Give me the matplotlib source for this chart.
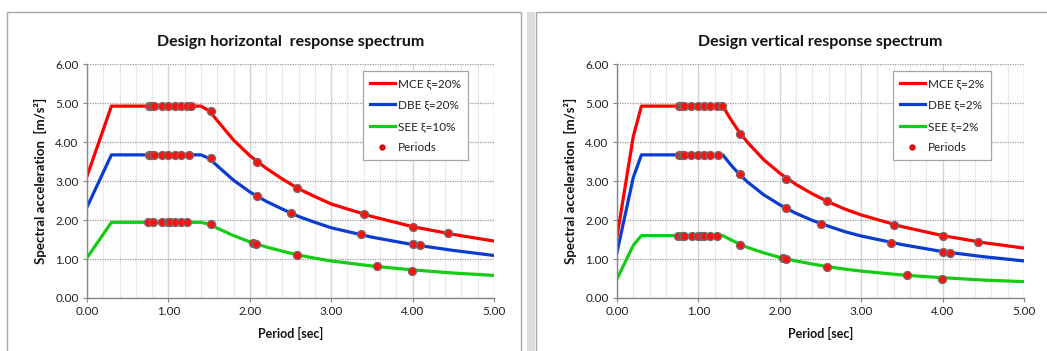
import matplotlib
matplotlib.use("Agg")
import matplotlib.pyplot as plt
from matplotlib.lines import Line2D
from matplotlib.patches import Rectangle
from matplotlib.ticker import MultipleLocator

plt.rcParams['font.family'] = ['Lato', 'DejaVu Sans']

# ---------------- data: horizontal spectrum ----------------
h_period = [0.0, 0.3, 1.4, 1.5, 1.6, 1.8, 2.0, 2.2, 2.4, 2.6, 2.8, 3.0, 3.5, 4.0, 4.5, 5.0]
h_mce = [3.12, 4.92, 4.92, 4.80, 4.55, 4.05, 3.65, 3.33, 3.05, 2.80, 2.60, 2.41, 2.09, 1.83, 1.63, 1.46]
h_dbe = [2.33, 3.67, 3.67, 3.58, 3.39, 3.02, 2.72, 2.48, 2.28, 2.09, 1.94, 1.80, 1.56, 1.37, 1.22, 1.09]
h_see = [1.03, 1.94, 1.94, 1.89, 1.79, 1.60, 1.44, 1.31, 1.20, 1.10, 1.02, 0.95, 0.82, 0.72, 0.64, 0.58]

h_mce_pT = [0.76, 0.79, 0.82, 0.92, 1.00, 1.08, 1.16, 1.23, 1.28, 1.52, 2.09, 2.58, 3.40, 4.00, 4.44]
h_mce_pS = [4.92, 4.92, 4.92, 4.92, 4.92, 4.92, 4.92, 4.92, 4.92, 4.79, 3.50, 2.82, 2.15, 1.83, 1.66]
h_dbe_pT = [0.76, 0.79, 0.82, 0.92, 1.00, 1.08, 1.16, 1.25, 1.52, 2.09, 2.51, 3.36, 4.00, 4.09]
h_dbe_pS = [3.67, 3.67, 3.67, 3.67, 3.67, 3.67, 3.67, 3.67, 3.60, 2.62, 2.17, 1.64, 1.38, 1.36]
h_see_pT = [0.75, 0.81, 0.92, 0.99, 1.02, 1.08, 1.15, 1.23, 1.52, 2.04, 2.08, 2.58, 3.56, 3.99]
h_see_pS = [1.94, 1.94, 1.94, 1.94, 1.94, 1.94, 1.94, 1.94, 1.89, 1.40, 1.38, 1.10, 0.82, 0.70]

# ---------------- data: vertical spectrum ----------------
v_period = [0.0, 0.2, 0.3, 1.3, 1.4, 1.5, 1.6, 1.8, 2.0, 2.2, 2.4, 2.6, 2.8, 3.0, 3.5, 4.0, 4.5, 5.0]
v_mce = [1.57, 4.14, 4.92, 4.92, 4.57, 4.26, 4.00, 3.55, 3.20, 2.91, 2.67, 2.46, 2.28, 2.13, 1.83, 1.60, 1.42, 1.28]
v_dbe = [1.17, 3.09, 3.67, 3.67, 3.41, 3.18, 2.98, 2.65, 2.39, 2.17, 1.99, 1.84, 1.70, 1.59, 1.37, 1.19, 1.06, 0.95]
v_see = [0.49, 1.35, 1.60, 1.60, 1.49, 1.39, 1.30, 1.16, 1.04, 0.95, 0.87, 0.80, 0.74, 0.69, 0.59, 0.52, 0.46, 0.42]

v_mce_pT = [0.76, 0.80, 0.82, 0.91, 0.99, 1.07, 1.14, 1.23, 1.29, 1.51, 2.08, 2.585, 3.40, 4.00, 4.43]
v_mce_pS = [4.92, 4.92, 4.92, 4.92, 4.92, 4.92, 4.92, 4.92, 4.92, 4.21, 3.04, 2.48, 1.88, 1.60, 1.44]
v_dbe_pT = [0.76, 0.80, 0.82, 0.91, 0.99, 1.07, 1.14, 1.24, 1.51, 2.08, 2.50, 3.36, 4.00, 4.09]
v_dbe_pS = [3.67, 3.67, 3.67, 3.67, 3.67, 3.67, 3.67, 3.67, 3.17, 2.30, 1.91, 1.42, 1.19, 1.16]
v_see_pT = [0.75, 0.80, 0.82, 0.92, 0.99, 1.03, 1.07, 1.14, 1.23, 1.51, 2.04, 2.08, 2.585, 3.56, 3.99]
v_see_pS = [1.60, 1.60, 1.60, 1.60, 1.60, 1.60, 1.60, 1.60, 1.60, 1.36, 1.03, 1.01, 0.79, 0.59, 0.50]

h_labels = ["MCE ξ=20%", "DBE ξ=20%", "SEE ξ=10%", "Periods"]
v_labels = ["MCE ξ=2%", "DBE ξ=2%", "SEE ξ=2%", "Periods"]
h_title = "Design horizontal  response spectrum"
v_title = "Design vertical response spectrum"
x_label = "Period [sec]"
y_label = "Spectral acceleration  [m/s²]"

RED = '#ff0000'
BLUE = '#0a3ccf'
GREEN = '#14cc14'

W, H = 1047, 351
fig = plt.figure(figsize=(W / 100, H / 100), dpi=100)

# panel borders (behind the axes)
fig.patches.append(Rectangle((7 / W, -0.1), (521 - 7) / W, 1.1 - 12 / H,
                             transform=fig.transFigure, fill=False,
                             edgecolor='#a8a8a8', lw=1.0, zorder=-5))
fig.patches.append(Rectangle((527 / W, -0.1), 8 / W, 1.1 - 12 / H,
                             transform=fig.transFigure, facecolor='#dcdcdc',
                             edgecolor='none', zorder=-5))
fig.patches.append(Rectangle((536 / W, -0.1), (1060 - 536) / W, 1.1 - 12 / H,
                             transform=fig.transFigure, fill=False,
                             edgecolor='#a8a8a8', lw=1.0, zorder=-5))


def draw(left_px, period, mce, dbe, see, pts, labels, title):
    ax = fig.add_axes([left_px / W, 1 - 298 / H, 407 / W, 234 / H])
    ax.patch.set_alpha(0)
    ax.set_xlim(0, 5)
    ax.set_ylim(0, 6)
    ax.xaxis.set_major_locator(MultipleLocator(1))
    ax.xaxis.set_minor_locator(MultipleLocator(0.2))
    ax.yaxis.set_major_locator(MultipleLocator(1))
    ax.set_xticklabels([f"{v:.2f}" for v in ax.get_xticks()])
    ax.set_yticklabels([f"{v:.2f}" for v in ax.get_yticks()])
    ax.grid(which='minor', axis='x', color='#ebebeb', lw=0.9)
    ax.grid(which='major', axis='x', color='#d4d4d4', lw=1.0)
    ax.grid(which='major', axis='y', color='#9a9a9a', lw=0.9, ls=(0, (1, 1)))
    ax.set_axisbelow(True)
    for s in ['top', 'right']:
        ax.spines[s].set_visible(False)
    for s in ['left', 'bottom']:
        ax.spines[s].set_color('#868686')
        ax.spines[s].set_linewidth(1.0)
    ax.tick_params(which='major', length=3, width=0.8, color='#868686',
                   labelsize=8.5, labelcolor='#202020', pad=3)
    ax.tick_params(which='minor', length=0)

    l1, = ax.plot(period, mce, color=RED, lw=2.3, solid_joinstyle='round')
    l2, = ax.plot(period, dbe, color=BLUE, lw=2.3, solid_joinstyle='round')
    l3, = ax.plot(period, see, color=GREEN, lw=2.3, solid_joinstyle='round')
    for pT, pS in pts:
        ax.plot(pT, pS, 'o', ms=5.8, mfc='#ff1010', mec='#6e6e6e', mew=0.9,
                ls='none', zorder=5)
    hp = Line2D([], [], marker='o', ls='none', ms=3.5, mfc='#ee1111', mec='#cc0000')

    leg = ax.legend([l1, l2, l3, hp], labels, loc='upper left',
                    bbox_to_anchor=(0.678, 0.968), fontsize=8.5,
                    frameon=True, fancybox=False, edgecolor='#a6a6a6',
                    framealpha=1, handlelength=2.1, handletextpad=0.25,
                    labelspacing=0.85, borderpad=0.6, borderaxespad=0)
    leg.get_frame().set_linewidth(0.9)
    for t in leg.get_texts():
        t.set_color('#202020')

    ax.set_title(title, fontsize=11.5, fontweight='bold', pad=13, color='#111111')
    ax.set_xlabel(x_label, fontsize=9, fontweight='bold', labelpad=7, color='#111111')
    ax.set_ylabel(y_label, fontsize=9.5, fontweight='bold', labelpad=6, color='#111111')
    return ax


draw(87, h_period, h_mce, h_dbe, h_see,
     [(h_mce_pT, h_mce_pS), (h_dbe_pT, h_dbe_pS), (h_see_pT, h_see_pS)],
     h_labels, h_title)
draw(617, v_period, v_mce, v_dbe, v_see,
     [(v_mce_pT, v_mce_pS), (v_dbe_pT, v_dbe_pS), (v_see_pT, v_see_pS)],
     v_labels, v_title)

fig.savefig("out.png", dpi=100)
